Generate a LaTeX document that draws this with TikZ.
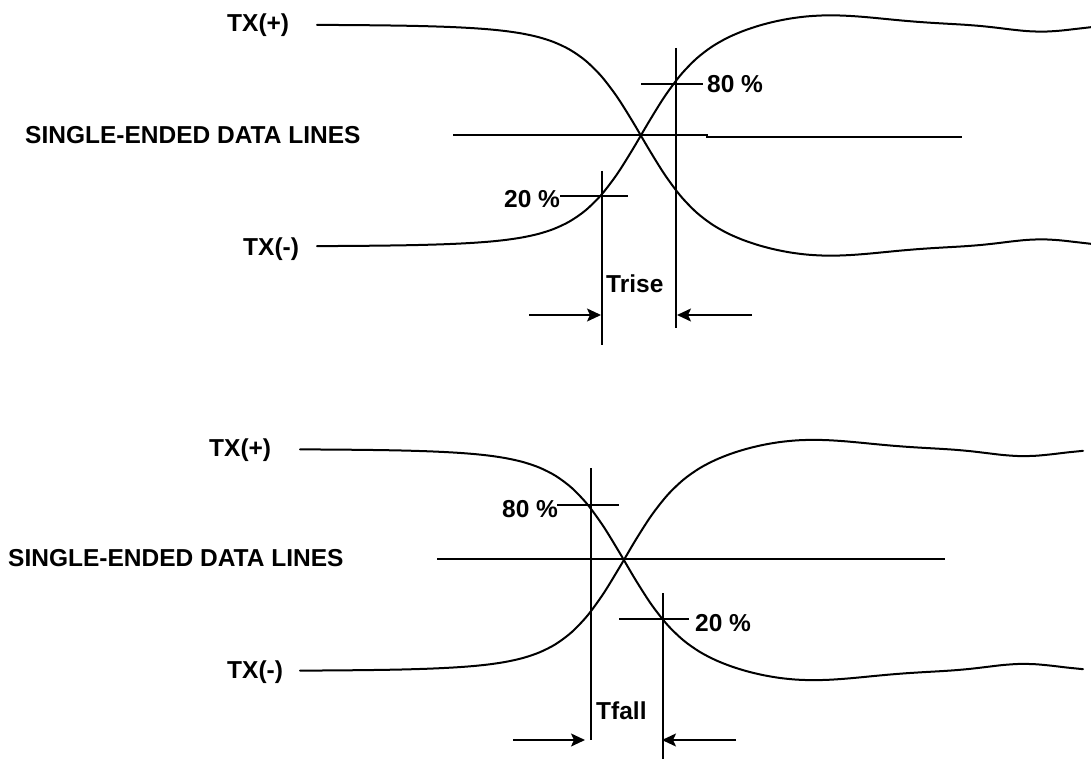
\documentclass[tikz,border=0pt]{standalone}
\usepackage{fontspec}
\setmainfont{Liberation Sans}
\usetikzlibrary{arrows.meta}
\begin{document}
\begin{tikzpicture}[x=1pt,y=-1pt,
  declare function={
    clampt(\v)=1-2/(exp(2*max(min(\v,4),-4))+1);
    gbump(\v)=1/exp(min(\v*\v,9));
    F(\u)=111*(0.8*clampt(\u/58)+0.2*clampt(\u/130))
          +12*gbump((\u-175)/90)-7*gbump((\u-400)/50);
  },
  lbl/.style={anchor=base west, inner sep=0pt, font=\fontsize{24.5}{28}\selectfont\bfseries},
  wave/.style={line width=2pt, line cap=round, line join=round},
  mline/.style={line width=1.6pt},
  dimarrow/.style={line width=1.6pt, -{Stealth[length=14pt,width=13pt,inset=3pt]}}]
\useasboundingbox (0,0) rectangle (1091,759);

% ---------------- upper diagram (Trise) ----------------
\node[lbl] (tp1) at (227,32) {TX(+)};
\node[lbl] (sed1) at (25,144) {SINGLE-ENDED DATA LINES};
\node[lbl] (tm1) at (243,255) {TX(-)};
\node[lbl] (p20a) at (504,208) {20 \%};
\node[lbl] (p80a) at (707,93) {80 \%};
\node[lbl] (trise) at (606,292) {Trise};

% TX(+) falling, TX(-) rising
\draw[wave] plot[domain=317:1091, samples=50, smooth, tension=0.5] (\x, {135.5+F(\x-641)});
\draw[wave] plot[domain=317:1091, samples=50, smooth, tension=0.5] (\x, {135.5-F(\x-641)});

% mid line
\draw[mline] (453,135) -- (707,135) -- (707,137) -- (962,137);

% 80 % mark
\draw[mline] (641,84) -- (703,84);
\draw[mline] (676,48) -- (676,328);
% 20 % mark
\draw[mline] (560,196) -- (628,196);
\draw[mline] (602,171) -- (602,345);

% Trise arrows
\coordinate (ra1) at (529,315);
\coordinate (ra2) at (601,315);
\coordinate (rb1) at (752,315);
\coordinate (rb2) at (677,315);
\draw[dimarrow] (ra1) -- (ra2);
\draw[dimarrow] (rb1) -- (rb2);

% ---------------- lower diagram (Tfall) ----------------
\node[lbl] (tp2) at (209,456) {TX(+)};
\node[lbl] (sed2) at (8,566) {SINGLE-ENDED DATA LINES};
\node[lbl] (tm2) at (227,678) {TX(-)};
\node[lbl] (p80b) at (502,517) {80 \%};
\node[lbl] (p20b) at (695,631) {20 \%};
\node[lbl] (tfall) at (596,719) {Tfall};

% TX(+) falling, TX(-) rising
\draw[wave] plot[domain=300:1083, samples=50, smooth, tension=0.5] (\x, {560+F(\x-624)});
\draw[wave] plot[domain=300:1083, samples=50, smooth, tension=0.5] (\x, {560-F(\x-624)});

% mid line
\draw[mline] (437,559) -- (945,559);

% 80 % mark
\draw[mline] (557,505) -- (619,505);
\draw[mline] (591,468) -- (591,740);
% 20 % mark
\draw[mline] (619,619) -- (689,619);
\draw[mline] (663,593) -- (663,759);

% Tfall arrows
\coordinate (fa1) at (513,740);
\coordinate (fa2) at (585,740);
\coordinate (fb1) at (736,740);
\coordinate (fb2) at (662,740);
\draw[dimarrow] (fa1) -- (fa2);
\draw[dimarrow] (fb1) -- (fb2);
\end{tikzpicture}
\end{document}
